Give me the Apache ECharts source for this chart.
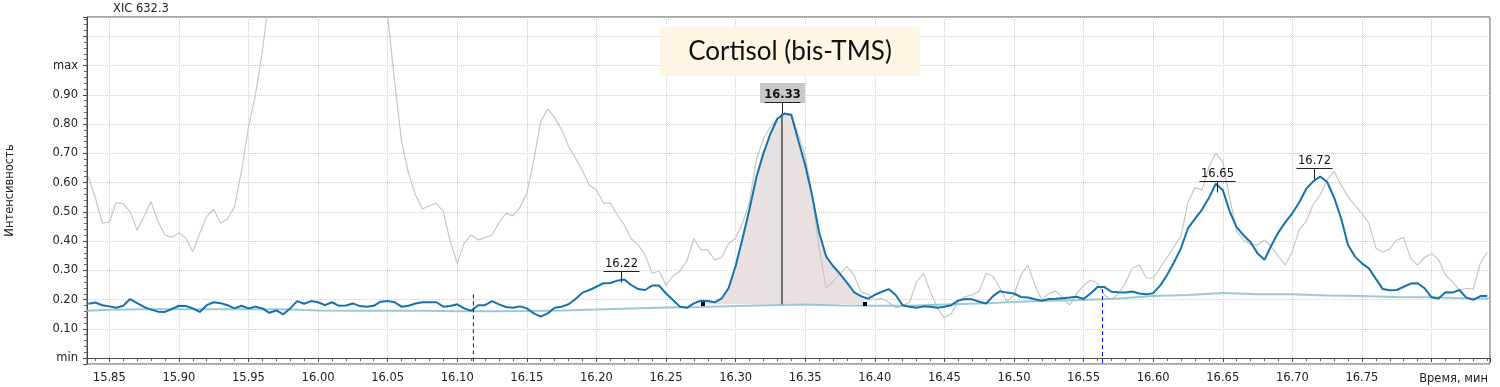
<!DOCTYPE html>
<html><head><meta charset="utf-8">
<script src="https://cdn.jsdelivr.net/npm/echarts@6/dist/echarts.min.js"></script>
<style>html,body{margin:0;padding:0;background:#fff}#chart{width:1500px;height:387px}</style>
</head><body><div id="chart"></div>
<script>
// sampling grid of the traces (minutes)
const sampleStart = 15.835;
const sampleStep = 0.005;

// XIC 632.3 trace (blue)
const mainTrace = [
0.186,0.190,0.181,0.177,0.172,0.179,0.202,0.188,0.175,0.166,
0.159,0.158,0.168,0.179,0.178,0.170,0.158,0.181,0.191,0.188,
0.181,0.170,0.179,0.170,0.176,0.170,0.155,0.163,0.150,0.170,
0.195,0.186,0.195,0.191,0.181,0.191,0.179,0.180,0.187,0.178,
0.176,0.179,0.193,0.195,0.191,0.176,0.179,0.187,0.191,0.191,
0.191,
0.176,0.178,0.184,0.170,0.162,0.181,0.181,0.195,0.184,0.175,
0.172,0.177,0.170,0.153,0.142,0.153,0.172,0.176,0.184,0.202,
0.224,0.233,0.244,0.256,0.257,0.265,0.269,0.250,0.236,0.233,
0.248,0.248,0.221,0.199,0.176,0.172,0.187,0.196,0.195,0.191,
0.204,0.240,0.315,0.410,0.510,0.620,0.700,0.767,0.818,0.836,
0.832,0.745,
0.660,0.555,0.430,0.348,0.315,0.288,0.258,0.226,0.212,0.203,
0.216,0.227,0.236,0.216,0.181,0.176,0.172,0.177,0.176,0.172,
0.176,0.181,0.197,0.202,0.201,0.193,0.187,0.212,0.229,0.224,
0.221,0.209,0.207,0.201,0.196,0.202,0.203,0.205,0.207,0.210,
0.202,0.221,0.243,0.243,0.227,0.225,0.224,0.228,0.221,0.218,
0.222,
0.248,0.284,0.328,0.376,0.444,0.476,0.507,0.547,0.596,0.575,
0.501,0.447,0.420,0.396,0.358,0.336,0.386,0.430,0.465,0.495,
0.533,0.579,0.604,0.621,0.602,0.549,0.478,0.387,0.347,0.324,
0.307,0.271,0.236,0.232,0.233,0.244,0.255,0.256,0.239,0.208,
0.204,0.225,0.224,0.233,0.207,0.199,0.212,0.212
];

// reference trace (grey)
const refTrace = [
0.620,0.549,0.461,0.465,0.532,0.527,0.501,0.438,0.484,0.535,
0.467,0.421,0.413,0.429,0.410,0.364,0.427,0.484,0.509,0.461,
0.476,0.518,0.640,0.790,0.900,1.049,1.240,1.450,1.650,1.850,
2.000,2.100,2.150,2.150,2.100,2.000,1.900,1.800,1.700,1.600,
1.500,1.400,1.300,1.169,0.946,0.741,0.632,0.558,0.510,0.521,
0.530,
0.501,0.398,0.324,0.393,0.421,0.404,0.412,0.421,0.463,0.495,
0.487,0.515,0.564,0.678,0.809,0.852,0.823,0.781,0.724,0.684,
0.640,0.590,0.575,0.530,0.530,0.490,0.455,0.408,0.387,0.353,
0.290,0.298,0.250,0.280,0.298,0.332,0.408,0.370,0.370,0.336,
0.344,0.393,0.410,0.461,0.535,0.680,0.750,0.790,0.821,0.832,
0.830,0.765,
0.690,0.560,0.376,0.239,0.261,0.289,0.313,0.284,0.227,0.218,
0.199,0.204,0.191,0.172,0.179,0.191,0.261,0.289,0.227,0.170,
0.138,0.153,0.195,0.210,0.216,0.229,0.290,0.279,0.239,0.193,
0.216,0.284,0.318,0.250,0.199,0.221,0.229,0.207,0.181,0.221,
0.248,0.267,0.256,0.216,0.199,0.221,0.256,0.307,0.318,0.275,
0.273,
0.309,0.345,0.381,0.416,0.533,0.583,0.575,0.652,0.701,0.672,
0.547,0.433,0.404,0.387,0.387,0.404,0.381,0.347,0.318,0.366,
0.441,0.467,0.526,0.558,0.610,0.638,0.592,0.552,0.522,0.495,
0.461,0.376,0.362,0.374,0.404,0.412,0.341,0.318,0.344,0.358,
0.337,0.284,0.261,0.233,0.239,0.236,0.324,0.362
];

// baseline trace (light blue)
const baseTimes = [15.834,15.85,15.875,15.90,15.925,15.95,15.975,16.00,16.025,16.05,16.075,16.10,16.125,16.15,16.175,16.20,16.225,16.25,16.275,16.30,16.325,16.35,16.375,16.40,16.425,16.45,16.475,16.50,16.525,16.55,16.575,16.60,16.625,16.65,16.675,16.70,16.725,16.75,16.775,16.80,16.825,16.842];
const baseValues = [0.162,0.165,0.167,0.167,0.167,0.167,0.167,0.163,0.162,0.162,0.162,0.160,0.160,0.161,0.163,0.166,0.170,0.173,0.175,0.178,0.181,0.183,0.180,0.179,0.179,0.183,0.187,0.192,0.196,0.199,0.204,0.212,0.216,0.223,0.218,0.218,0.214,0.212,0.209,0.208,0.205,0.204];

// peak annotations
const peakTimes = [16.2176, 16.3333, 16.6457, 16.7152];
const peakLevels = [0.298, 0.876, 0.604, 0.650];
const peakLabels = ['16.22', '16.33', '16.65', '16.72'];
const mainPeakIndex = 1;
const apexValue = 0.836;
const integStart = 16.2765, integEnd = 16.3933, integBase = 0.184;

// dashed blue markers
const markerTimes = [16.1116, 16.5636];
const markerTops = [0.218, 0.236];

// axes
const xMin = 15.834, xMax = 16.842;
const yMin = -0.02, yMax = 1.166;
const xTickLabels = ['15.85','15.90','15.95','16.00','16.05','16.10','16.15','16.20','16.25','16.30','16.35','16.40','16.45','16.50','16.55','16.60','16.65','16.70','16.75'];
const yTickLabels = ['min','0.10','0.20','0.30','0.40','0.50','0.60','0.70','0.80','0.90','max'];

const times = mainTrace.map((_, i) => +(sampleStart + i * sampleStep).toFixed(3));
const FONT = 'DejaVu Sans';

const chart = echarts.init(document.getElementById('chart'), null, {renderer: 'canvas'});

function xLabel(v) {
  const k = Math.round((v - 15.85) / 0.05);
  if (Math.abs(v - (15.85 + k * 0.05)) > 1e-6) return '';
  return xTickLabels[k] || '';
}
function yLabel(v) {
  const k = Math.round(v * 10);
  if (Math.abs(v - k / 10) > 1e-6) return '';
  return yTickLabels[k] || '';
}

const markerSeries = markerTimes.map((t, i) => ({
  type: 'line', name: 'marker' + i, z: 6, silent: true, showSymbol: false,
  data: [[t, markerTops[i]], [t, yMin]],
  lineStyle: {color: '#0000ff', width: 1, type: [4, 3]}
}));

const option = {
  animation: false,
  grid: {left: 87, right: 10, top: 17, bottom: 23, containLabel: false, outerBoundsMode: 'none', show: true, borderColor: '#4a4a4a', borderWidth: 1, backgroundColor: 'transparent'},
  xAxis: {
    type: 'value', min: xMin, max: xMax, splitNumber: 20,
    axisLine: {show: true, lineStyle: {color: '#4a4a4a', width: 1}},
    axisTick: {show: true, length: 4, lineStyle: {color: '#4a4a4a'}},
    minorTick: {show: true, splitNumber: 5, length: 3, lineStyle: {color: '#666'}},
    splitLine: {show: true, lineStyle: {color: '#cfcfcf', type: 'dotted', width: 1}},
    axisLabel: {formatter: xLabel, margin: 8, fontFamily: FONT, fontSize: 11.5, color: '#222', showMinLabel: true, showMaxLabel: true, hideOverlap: false}
  },
  yAxis: {
    type: 'value', min: yMin, max: yMax, splitNumber: 12,
    name: 'Интенсивность', nameLocation: 'middle', nameGap: 71, nameRotate: 90,
    nameTextStyle: {fontFamily: FONT, fontSize: 11.5, color: '#222'},
    axisLine: {show: true, lineStyle: {color: '#4a4a4a', width: 1}},
    axisTick: {show: true, length: 4, lineStyle: {color: '#4a4a4a'}},
    minorTick: {show: true, splitNumber: 5, length: 3, lineStyle: {color: '#666'}},
    splitLine: {show: true, lineStyle: {color: '#cfcfcf', type: 'dotted', width: 1}},
    axisLabel: {formatter: yLabel, margin: 9, fontFamily: FONT, fontSize: 11.5, color: '#222', showMinLabel: true, showMaxLabel: true, hideOverlap: false}
  },
  graphic: [
    {type: 'text', left: 113, top: 3, style: {text: 'XIC 632.3', font: '11.5px "DejaVu Sans"', fill: '#222'}},
    {type: 'rect', shape: {x: 660, y: 27, width: 260, height: 49}, style: {fill: '#fef6e3'}, z: 10},
    {type: 'text', x: 790, y: 52, style: {text: 'Cortisol (bis-TMS)', font: '26px Lato', fill: '#111', align: 'center', verticalAlign: 'middle'}, z: 11},
    {type: 'text', x: 1488, y: 379, style: {text: 'Время, мин', font: '11.5px "DejaVu Sans"', fill: '#222', align: 'right', verticalAlign: 'middle'}}
  ],
  series: [
    {
      type: 'custom', name: 'area', z: 1, silent: true,
      data: [[integStart, integBase]],
      renderItem: function (params, api) {
        const pts = [api.coord([integStart, integBase])];
        for (let i = 0; i < times.length; i++) {
          if (times[i] > integStart && times[i] < integEnd) pts.push(api.coord([times[i], mainTrace[i]]));
        }
        pts.push(api.coord([integEnd, integBase]));
        return {type: 'polygon', shape: {points: pts}, style: {fill: '#e9e1e1'}};
      }
    },
    {type: 'line', name: 'ref', z: 2, silent: true, showSymbol: false, data: times.map((t, i) => [t, refTrace[i]]), lineStyle: {color: '#c6c6c6', width: 1.2}},
    {type: 'line', name: 'base', z: 3, silent: true, showSymbol: false, data: baseTimes.map((t, i) => [t, baseValues[i]]), lineStyle: {color: '#8cc0cf', width: 2, opacity: 0.85}},
    {
      type: 'custom', name: 'apex', z: 4, silent: true,
      data: [[peakTimes[mainPeakIndex], apexValue]],
      renderItem: function (params, api) {
        const a = api.coord([api.value(0), api.value(1)]);
        const b = api.coord([api.value(0), integBase]);
        return {type: 'line', shape: {x1: a[0], y1: a[1], x2: b[0], y2: b[1]}, style: {stroke: '#707070', lineWidth: 2}};
      }
    },
    {type: 'line', name: 'XIC', z: 5, silent: true, showSymbol: false, data: times.map((t, i) => [t, mainTrace[i]]), lineStyle: {color: '#1473aa', width: 2}},
    ...markerSeries,
    {
      type: 'custom', name: 'ends', z: 7, silent: true,
      data: [[integStart, integBase], [integEnd, integBase]],
      renderItem: function (params, api) {
        const p = api.coord([api.value(0), api.value(1)]);
        return {type: 'rect', shape: {x: Math.round(p[0]) - 2, y: Math.round(p[1]) - 2, width: 4, height: 4}, style: {fill: '#000'}};
      }
    },
    {
      type: 'custom', name: 'labels', z: 8, silent: true,
      data: peakTimes.map((t, i) => [t, peakLevels[i], i]),
      renderItem: function (params, api) {
        const p = api.coord([api.value(0), api.value(1)]);
        const idx = api.value(2);
        const main = idx === mainPeakIndex;
        const cx = Math.round(p[0]) + 0.5, cy = Math.round(p[1]) + 0.5;
        const children = [];
        if (main) {
          children.push({type: 'rect', shape: {x: cx - 22.5, y: cy - 19.5, width: 45, height: 20}, style: {fill: '#c8c8c8'}});
        }
        children.push({type: 'line', shape: {x1: cx - 18, y1: cy, x2: cx + 18, y2: cy}, style: {stroke: '#222', lineWidth: 1}});
        children.push({type: 'line', shape: {x1: cx, y1: cy, x2: cx, y2: cy + 11}, style: {stroke: '#222', lineWidth: 1}});
        children.push({type: 'text', x: cx, y: cy - 1.5, style: {text: peakLabels[idx], font: (main ? 'bold ' : '') + '11.5px "DejaVu Sans"', fill: '#111', align: 'center', verticalAlign: 'bottom'}});
        return {type: 'group', children: children};
      }
    }
  ]
};
chart.setOption(option);
</script>
</body></html>
